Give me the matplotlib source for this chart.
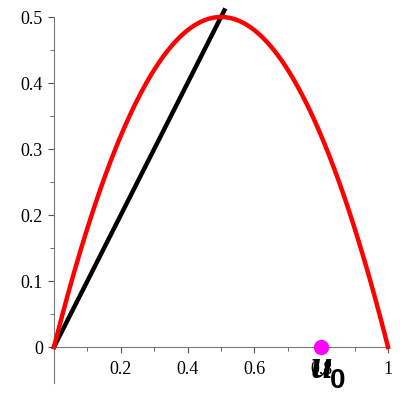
import numpy as np
from matplotlib import pyplot as plt
from matplotlib.transforms import offset_copy

# curve y = 2u(1-u), line y = u, marked point u0
u_curve = np.linspace(0, 1, 201)
y_curve = 2 * u_curve * (1 - u_curve)
u_line = [0.0, 0.51]
y_line = [0.0, 0.51]
u0 = 0.8

xticks = [0.2, 0.4, 0.6, 0.8, 1.0]
xticklabels = ["0.2", "0.4", "0.6", "0.8", "1"]
yticks = [0, 0.1, 0.2, 0.3, 0.4, 0.5]
yticklabels = ["0", "0.1", "0.2", "0.3", "0.4", "0.5"]

plt.rcParams['font.family'] = ['Liberation Serif', 'DejaVu Serif']

fig = plt.figure(figsize=(4, 4), dpi=100)
ax = fig.add_axes([0.135, 0.1325, 0.835, 0.825])

ax.plot(u_curve, y_curve, color='red', lw=3.2, clip_on=False, zorder=3)
ax.plot(u_line, y_line, color='black', lw=3.2, clip_on=False, zorder=2)
ax.plot([u0], [0], 'o', color='magenta', ms=10, clip_on=False, zorder=4)

# label u0 below the point (offsets in pixels -> points)
px = 72 / fig.dpi
t_u = offset_copy(ax.transData, fig=fig, x=0 * px, y=-31 * px, units='points')
t_0 = offset_copy(ax.transData, fig=fig, x=16 * px, y=-41 * px, units='points')
ax.text(u0, 0, "u", transform=t_u, fontsize=28, fontweight='bold', style='italic',
        ha='center', va='baseline', family='Liberation Serif', zorder=5)
ax.text(u0, 0, "0", transform=t_0, fontsize=20, fontweight='bold',
        ha='center', va='baseline', family='Liberation Sans', zorder=5)

ax.set_xlim(0, 1)
ax.set_ylim(0, 0.5)
for s in ['top', 'right']:
    ax.spines[s].set_visible(False)
ax.spines['left'].set_color('#777777')
ax.spines['bottom'].set_color('#777777')
ax.spines['left'].set_bounds(-0.055, 0.5)

ax.set_xticks(xticks)
ax.set_xticklabels(xticklabels)
ax.set_xticks(np.arange(0.1, 1.0, 0.2), minor=True)
ax.set_yticks(yticks)
ax.set_yticklabels(yticklabels)
ax.set_yticks(np.arange(0.05, 0.5, 0.1), minor=True)
ax.tick_params(axis='x', direction='out', length=4, color='#555555', labelsize=13, pad=6)
ax.tick_params(axis='y', direction='out', length=4, color='#555555', labelsize=13, pad=4)
ax.tick_params(which='minor', length=3, color='#555555')

fig.savefig('out.png', dpi=100)
